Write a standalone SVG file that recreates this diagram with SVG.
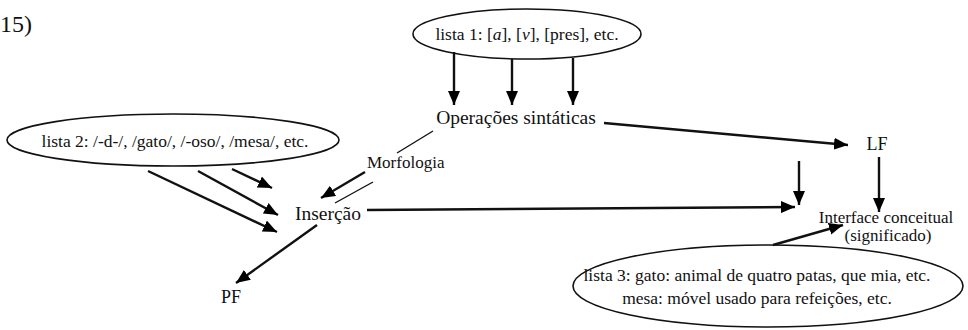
<svg xmlns="http://www.w3.org/2000/svg" width="968" height="330" viewBox="0 0 968 330" font-family="'Liberation Serif', 'Times New Roman', serif">
<defs>
<marker id="ah" viewBox="0 0 14 12" refX="14" refY="6" markerWidth="14" markerHeight="12" markerUnits="userSpaceOnUse" orient="auto">
<path d="M0,0 L14,6 L0,12 Z" fill="#000"/>
</marker>
<style>
text{font-family:"Liberation Serif","Times New Roman",serif;fill:#111}
.lst{font-size:17.5px}
.big{font-size:19.5px}
.mid{font-size:18px}
.sm{font-size:17px}
ellipse{fill:none;stroke:#111;stroke-width:1.6}
.a{stroke:#111;stroke-width:2.4;fill:none;marker-end:url(#ah)}
.t{stroke:#111;stroke-width:1.4;fill:none}
</style>
</defs>
<rect width="968" height="330" fill="#fff"/>
<text x="0" y="32" style="font-size:24px">15)</text>
<g id="lista1">
<ellipse cx="527" cy="34" rx="114" ry="25"/>
<text class="lst" x="527" y="40" text-anchor="middle">lista 1: [<tspan font-style="italic">a</tspan>], [<tspan font-style="italic">v</tspan>], [pres], etc.</text>
</g>
<g id="operacoes"><text class="big" x="516" y="124" text-anchor="middle">Operações sintáticas</text></g>
<g id="lf"><text class="mid" x="877" y="150" text-anchor="middle">LF</text></g>
<g id="lista2">
<ellipse cx="173" cy="140" rx="166" ry="26"/>
<text class="lst" x="175" y="147" text-anchor="middle">lista 2: /-d-/, /gato/, /-oso/, /mesa/, etc.</text>
</g>
<g id="morfologia"><text class="sm" x="367" y="168">Morfologia</text></g>
<g id="insercao"><text class="big" x="328" y="220" text-anchor="middle">Inserção</text></g>
<g id="pf"><text class="mid" x="231" y="303" text-anchor="middle">PF</text></g>
<g id="interface">
<text class="sm" x="886" y="223" text-anchor="middle">Interface conceitual</text>
<text class="sm" x="888" y="241" text-anchor="middle">(significado)</text>
</g>
<g id="lista3">
<ellipse cx="768" cy="286" rx="195" ry="41"/>
<text class="lst" x="757" y="281" text-anchor="middle">lista 3: gato: animal de quatro patas, que mia, etc.</text>
<text class="lst" x="757" y="304" text-anchor="middle">mesa: móvel usado para refeições, etc.</text>
</g>
<g id="connectors">
<line class="a" x1="454" y1="52" x2="454" y2="105"/>
<line class="a" x1="512" y1="59" x2="512" y2="105"/>
<line class="a" x1="573" y1="58" x2="573" y2="105"/>
<line class="a" x1="604" y1="123" x2="848" y2="145"/>
<line class="a" x1="879" y1="157" x2="879" y2="212"/>
<line class="a" x1="799" y1="161" x2="799" y2="205"/>
<line class="a" x1="367" y1="210" x2="795" y2="207"/>
<line class="a" x1="773" y1="245" x2="843" y2="225"/>
<line class="t" x1="433" y1="131" x2="397" y2="153"/>
<line class="a" x1="365" y1="172" x2="321" y2="198"/>
<line class="t" x1="373" y1="182" x2="335" y2="203"/>
<line class="a" x1="232" y1="169" x2="272" y2="188"/>
<line class="a" x1="198" y1="171" x2="278" y2="215"/>
<line class="a" x1="148" y1="171" x2="277" y2="232"/>
<line class="a" x1="317" y1="225" x2="236" y2="283"/>
</g>
</svg>
